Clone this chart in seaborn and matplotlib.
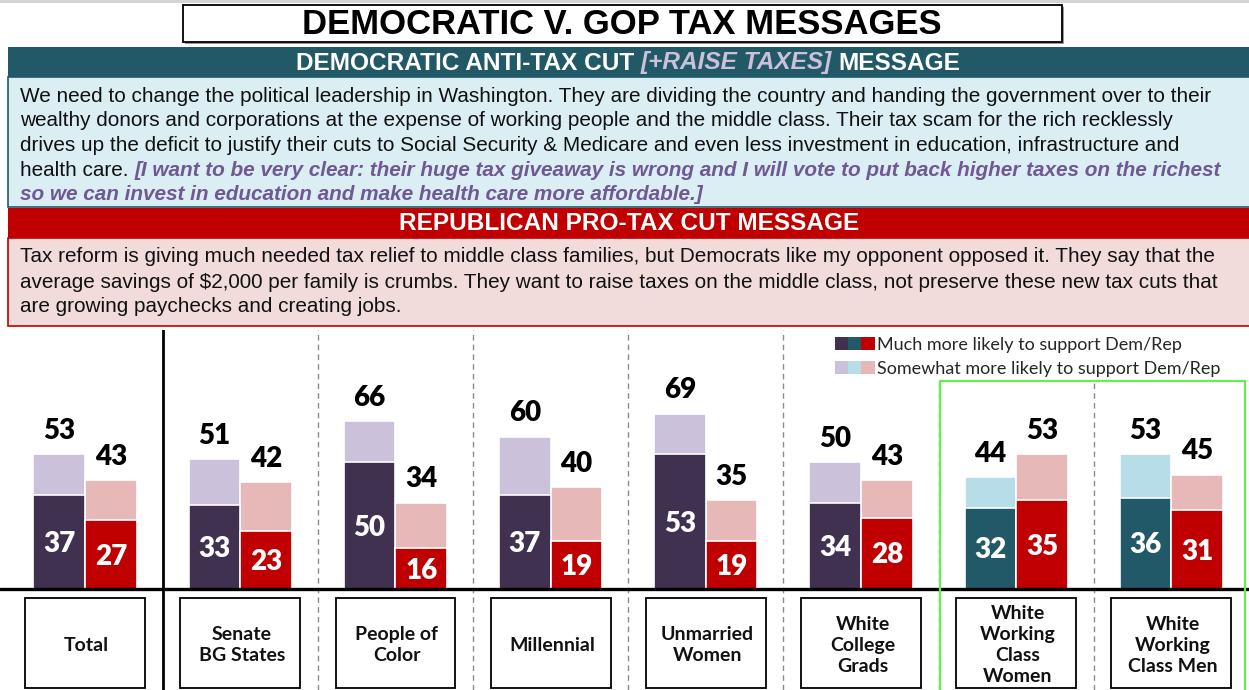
import numpy as np
import pandas as pd
import matplotlib
matplotlib.use("Agg")
import matplotlib.pyplot as plt
import seaborn as sns
from matplotlib.patches import Rectangle, Patch
from matplotlib.legend_handler import HandlerTuple

# ---------------- data ----------------
groups = ["Total", "Senate\nBG States", "People of\nColor", "Millennial",
          "Unmarried\nWomen", "White\nCollege\nGrads", "White\nWorking\nClass\nWomen",
          "White\nWorking\nClass Men"]
dem_total = [53, 51, 66, 60, 69, 50, 44, 53]
dem_much = [37, 33, 50, 37, 53, 34, 32, 36]
rep_total = [43, 42, 34, 40, 35, 43, 53, 45]
rep_much = [27, 23, 16, 19, 19, 28, 35, 31]
dem_shade = ["purple", "purple", "purple", "purple", "purple", "purple", "teal", "teal"]

title = "DEMOCRATIC V. GOP TAX MESSAGES"
dem_header = [("DEMOCRATIC ANTI-TAX CUT", "plain"), ("[+RAISE TAXES]", "accent"), ("MESSAGE", "plain")]
rep_header = [("REPUBLICAN PRO-TAX CUT MESSAGE", "plain")]
dem_lines = [
    [("We need to change the political leadership in Washington. They are dividing the country and handing the government over to their", "n")],
    [("wealthy donors and corporations at the expense of working people and the middle class. Their tax scam for the rich recklessly", "n")],
    [("drives up the deficit to justify their cuts to Social Security & Medicare and even less investment in education, infrastructure and", "n")],
    [("health care.", "n"), ("[I want to be very clear: their huge tax giveaway is wrong and I will vote to put back higher taxes on the richest", "i")],
    [("so we can invest in education and make health care more affordable.]", "i")],
]
rep_lines = [
    [("Tax reform is giving much needed tax relief to middle class families, but Democrats like my opponent opposed it. They say that the", "n")],
    [("average savings of $2,000 per family is crumbs. They want to raise taxes on the middle class, not preserve these new tax cuts that", "n")],
    [("are growing paychecks and creating jobs.", "n")],
]
legend_labels = ["Much more likely to support Dem/Rep", "Somewhat more likely to support Dem/Rep"]

# ---------------- style ----------------
DEM_DARK, DEM_LIGHT = "#403151", "#CCC1DA"
TEAL_DARK, TEAL_LIGHT = "#215968", "#B7DEE8"
REP_DARK, REP_LIGHT = "#C00000", "#E6B9B8"
HEAD_TEAL = "#215967"
BODY_BLUE = "#DAEEF3"
BODY_PINK = "#F2DCDB"
PURPLE_TXT = "#6F5893"
GREEN = "#63EE52"

sns.set_theme(style="white")
plt.rcParams["font.family"] = ["Lato", "DejaVu Sans"]
SANS = ["Liberation Sans", "DejaVu Sans"]

W, H = 1249, 690
fig = plt.figure(figsize=(W / 100, H / 100), dpi=100)
fig.patch.set_facecolor("white")
renderer = fig.canvas.get_renderer()


def fx(x):
    return x / W


def fy(y):
    return 1 - y / H


def frect(x0, y0, x1, y1, **kw):
    r = Rectangle((fx(x0), fy(y1)), (x1 - x0) / W, (y1 - y0) / H,
                  transform=fig.transFigure, **kw)
    fig.patches.append(r)
    return r


def text_width(s, size, **props):
    t = fig.text(0, 0, s, fontsize=size, parse_math=False, **props)
    w = t.get_window_extent(renderer).width
    t.remove()
    return w


def fit_size(s, target, **props):
    return 10 * target / text_width(s, 10, **props)


def draw_runs(runs, x, y, size, styles, center=False):
    base = styles["n" if "n" in styles else "plain"]
    space = text_width("a a", size, **base) - text_width("aa", size, **base)
    widths = [text_width(s, size, **styles[k]) for s, k in runs]
    total = sum(widths) + space * (len(runs) - 1)
    cur = x - total / 2 if center else x
    for (s, k), w in zip(runs, widths):
        fig.text(fx(cur), fy(y), s, fontsize=size, ha="left", va="center",
                 parse_math=False, **styles[k])
        cur += w + space


# ---------------- top band, title ----------------
frect(0, 0, W, 3, facecolor="#D4D4D4", edgecolor="none")
frect(185, 7, 1064, 44, facecolor="#9A9A9A", edgecolor="none")
frect(183, 5, 1062, 42, facecolor="white", edgecolor="black", linewidth=1.3)
tprops = dict(family=SANS, fontweight="bold", color="black")
tsize = fit_size(title, 640, **tprops)
fig.text(fx(622), fy(25), title, fontsize=tsize, ha="center", va="center", **tprops)

# ---------------- Democratic message ----------------
frect(8, 47, W + 5, 77, facecolor=HEAD_TEAL, edgecolor="none")
frect(8, 77, W + 5, 207, facecolor=BODY_BLUE, edgecolor=HEAD_TEAL, linewidth=1.2)
hstyles = {"plain": dict(family=SANS, fontweight="bold", color="white"),
           "accent": dict(family=SANS, fontweight="bold", style="italic", color="#CCC0DA")}
hsize = fit_size("DEMOCRATIC ANTI-TAX CUT [+RAISE TAXES] MESSAGE", 663, **hstyles["plain"])
draw_runs(dem_header, 628, 63, hsize, hstyles, center=True)

bstyles = {"n": dict(family=SANS, color="#111111"),
           "i": dict(family=SANS, fontweight="bold", style="italic", color=PURPLE_TXT)}
bsize = fit_size(dem_lines[0][0][0], 1195, **bstyles["n"])
for k, line in enumerate(dem_lines):
    draw_runs(line, 20, 96 + 24.7 * k, bsize, bstyles)

# ---------------- Republican message ----------------
frect(8, 208, W + 5, 238, facecolor=REP_DARK, edgecolor="none")
frect(8, 238, W + 5, 326, facecolor=BODY_PINK, edgecolor=REP_DARK, linewidth=1.2)
draw_runs(rep_header, 629, 224, hsize, hstyles, center=True)
for k, line in enumerate(rep_lines):
    draw_runs(line, 20, 257 + 25 * k, bsize, bstyles)

# ---------------- chart ----------------
ax = fig.add_axes([0, 0, 1, (H - 330) / H])
df = pd.DataFrame({
    "group": groups * 2,
    "party": ["Dem"] * len(groups) + ["Rep"] * len(groups),
    "total": dem_total + rep_total,
    "much": dem_much + rep_much,
})
light = {"purple": DEM_LIGHT, "teal": TEAL_LIGHT, "red": REP_LIGHT}
dark = {"purple": DEM_DARK, "teal": TEAL_DARK, "red": REP_DARK}


def color_patches(patches, cmap):
    for p in patches:
        cx = p.get_x() + p.get_width() / 2
        i = int(round(cx))
        party = "Dem" if cx < i else "Rep"
        shade = dem_shade[i] if party == "Dem" else "red"
        p.set_facecolor(cmap[shade])
        p.set_edgecolor("white")
        p.set_linewidth(1.2)


n0 = len(ax.patches)
sns.barplot(data=df, x="group", y="total", hue="party", order=groups,
            hue_order=["Dem", "Rep"], width=0.665, dodge=True, errorbar=None,
            legend=False, ax=ax)
total_patches = list(ax.patches)[n0:]
color_patches(total_patches, light)
n1 = len(ax.patches)
sns.barplot(data=df, x="group", y="much", hue="party", order=groups,
            hue_order=["Dem", "Rep"], width=0.665, dodge=True, errorbar=None,
            legend=False, ax=ax)
much_patches = list(ax.patches)[n1:]
color_patches(much_patches, dark)

NUM = 20
for p in total_patches:
    ax.annotate(f"{p.get_height():.0f}", (p.get_x() + p.get_width() / 2, p.get_height()),
                xytext=(0, 11), textcoords="offset points", ha="center", va="baseline",
                fontsize=NUM, fontweight="heavy", color="black")
for p in much_patches:
    ax.annotate(f"{p.get_height():.0f}", (p.get_x() + p.get_width() / 2, p.get_height() / 2),
                xytext=(0, -7.2), textcoords="offset points", ha="center", va="baseline",
                fontsize=NUM, fontweight="heavy", color="white")

ymin, ymax = -39.76, 101.97
ax.set_xlim(-0.548, 7.5)
ax.set_ylim(ymin, ymax)
ax.set_axis_off()

green_top = 81.9
# separators
ax.axvline(0.5, color="black", linewidth=2, zorder=0)
for i in range(1, len(groups) - 1):
    top = 1.0 if i + 0.5 < 5.5 else (green_top - ymin) / (ymax - ymin)
    ax.axvline(i + 0.5, ymax=top, color="#8C8C8C", linewidth=1,
               linestyle=(0, (4, 3)), zorder=0)
ax.axhline(0, color="black", linewidth=2.4, zorder=5)

# category label boxes
for i, g in enumerate(groups):
    ax.add_patch(Rectangle((i - 0.386, -39.0), 0.772, 35.5, facecolor="white",
                           edgecolor="black", linewidth=1.3, zorder=2))
    ax.text(i + 0.01, -22.2, g, ha="center", va="center", fontsize=14,
            fontweight="bold", color="#111111", linespacing=1.29, zorder=3)

# highlight box
ax.add_patch(Rectangle((5.509, -60), 1.965, 60 + green_top, fill=False, edgecolor=GREEN,
                       linewidth=1.6, zorder=6, clip_on=True))

# legend
h1 = tuple(Patch(facecolor=c, edgecolor="none") for c in (DEM_DARK, TEAL_DARK, REP_DARK))
h2 = tuple(Patch(facecolor=c, edgecolor="none") for c in (DEM_LIGHT, TEAL_LIGHT, REP_LIGHT))
fig.legend([h1, h2], legend_labels, handler_map={tuple: HandlerTuple(ndivide=None, pad=0)},
           loc="upper left", bbox_to_anchor=(fx(835), fy(337)), frameon=False,
           fontsize=13, handlelength=2.2, handleheight=0.75, handletextpad=0.12,
           labelspacing=0.45, borderpad=0, borderaxespad=0)

fig.savefig("out.png", dpi=100)
